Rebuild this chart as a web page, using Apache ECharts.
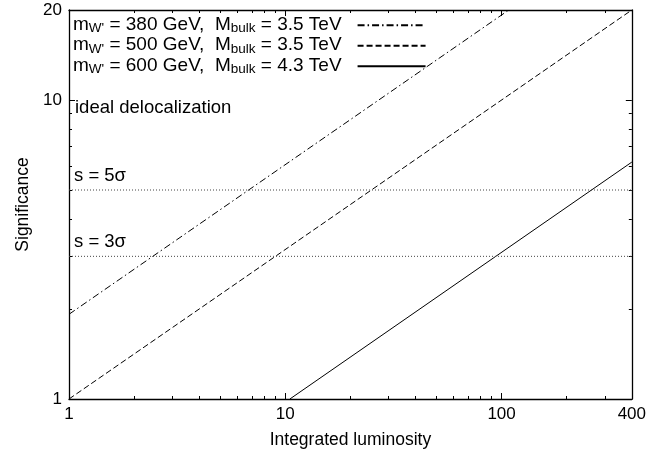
<!DOCTYPE html>
<html>
<head>
<meta charset="utf-8">
<script src="https://cdn.jsdelivr.net/npm/echarts@6/dist/echarts.min.js"></script>
<style>
  html, body { margin: 0; padding: 0; background: #fff; }
  #main { width: 649px; height: 457px; }
</style>
</head>
<body>
<div id="main"></div>
<script>
// 数据 (log-log axes)
var wMass = [380, 500, 600];
var bulkMass = ['3.5', '3.5', '4.3'];
var dashTypes = [[7, 3, 1.5, 3], [6, 3], 'solid'];
var line380 = [[1, 1.92], [108, 20]];
var line500 = [[1, 1], [400, 20]];
var line600 = [[10.5, 1], [400, 6.2]];
var sigma5 = [[1, 5], [400, 5]];
var sigma3 = [[1, 3], [400, 3]];
var xMajor = [1, 10, 100, 400];
var xMinor = [2, 3, 4, 5, 6, 7, 8, 9, 20, 30, 40, 50, 60, 70, 80, 90, 200, 300];
var yMajor = [1, 10, 20];
var yMinor = [2, 3, 4, 5, 6, 7, 8, 9];

var font = 'Liberation Sans, Arial, Helvetica, sans-serif';
var names = [];
var richNames = {};
for (var i = 0; i < wMass.length; i++) {
  var nm = "mW' = " + wMass[i] + ' GeV,  Mbulk = ' + bulkMass[i] + ' TeV';
  names.push(nm);
  richNames[nm] = "{n|m}{s|W'}{n| = " + wMass[i] + ' GeV,  M}{s|bulk}{n| = ' + bulkMass[i] + ' TeV}{p| }';
}

function logAxis(pos, min, max, ticks, len, labels, extra) {
  var a = {
    type: 'log', position: pos, min: min, max: max, logBase: 10,
    axisLine: { show: !!labels, lineStyle: { color: '#000', width: 1.3 } },
    axisTick: { show: true, inside: true, length: len, customValues: ticks, lineStyle: { color: '#000', width: 1 } },
    axisLabel: labels ? { show: true, customValues: labels, color: '#000', fontSize: 17, fontFamily: font, margin: 7 } : { show: false },
    splitLine: { show: false }, minorTick: { show: false }
  };
  for (var k in extra) a[k] = extra[k];
  return a;
}

var myChart = echarts.init(document.getElementById('main'));
myChart.setOption({
  backgroundColor: '#fff',
  animation: false,
  grid: { left: 69, right: 17, top: 10, bottom: 58 },
  xAxis: [
    logAxis('bottom', 1, 400, xMajor, 6, xMajor, {
      name: 'Integrated luminosity', nameLocation: 'middle', nameGap: 32,
      nameTextStyle: { color: '#000', fontSize: 17.5, fontFamily: font }
    }),
    logAxis('bottom', 1, 400, xMinor, 3, null, {}),
    logAxis('top', 1, 400, xMajor, 6, null, { axisLine: { show: true, lineStyle: { color: '#000', width: 1.3 } } }),
    logAxis('top', 1, 400, xMinor, 3, null, {})
  ],
  yAxis: [
    logAxis('left', 1, 20, yMajor, 6, yMajor, {
      name: 'Significance', nameLocation: 'middle', nameGap: 36,
      nameTextStyle: { color: '#000', fontSize: 17.5, fontFamily: font }
    }),
    logAxis('left', 1, 20, yMinor, 3, null, {}),
    logAxis('right', 1, 20, yMajor, 6, null, { axisLine: { show: true, lineStyle: { color: '#000', width: 1.3 } } }),
    logAxis('right', 1, 20, yMinor, 3, null, {})
  ],
  legend: {
    data: names,
    orient: 'vertical',
    left: 73, top: 15,
    align: 'right',
    itemWidth: 68, itemHeight: 14,
    itemGap: 0,
    padding: 0,
    itemStyle: { opacity: 0 },
    formatter: function (name) { return richNames[name]; },
    textStyle: {
      color: '#000', fontFamily: font,
      rich: {
        n: { fontSize: 19, fontFamily: font, color: '#000', lineHeight: 19, verticalAlign: 'top' },
        s: { fontSize: 13.5, fontFamily: font, color: '#000', lineHeight: 13, verticalAlign: 'bottom' },
        p: { fontSize: 12, lineHeight: 20.5, width: 11 }
      }
    }
  },
  graphic: [
    { type: 'text', left: 75, top: 98, style: { text: 'ideal delocalization', fontSize: 18.5, fontFamily: font, fill: '#000' } },
    { type: 'text', left: 74, top: 166, style: { text: 's = 5σ', fontSize: 18.5, fontFamily: font, fill: '#000' } },
    { type: 'text', left: 74, top: 232, style: { text: 's = 3σ', fontSize: 18.5, fontFamily: font, fill: '#000' } }
  ],
  series: [
    { name: names[0], type: 'line', data: line380, symbol: 'none', lineStyle: { color: '#000', width: 1, type: dashTypes[0] }, itemStyle: { color: '#000' } },
    { name: names[1], type: 'line', data: line500, symbol: 'none', lineStyle: { color: '#000', width: 1, type: dashTypes[1] }, itemStyle: { color: '#000' } },
    { name: names[2], type: 'line', data: line600, symbol: 'none', lineStyle: { color: '#000', width: 1, type: dashTypes[2] }, itemStyle: { color: '#000' } },
    { name: '5sigma', type: 'line', data: sigma5, symbol: 'none', silent: true, lineStyle: { color: '#444', width: 1, type: [1, 2] } },
    { name: '3sigma', type: 'line', data: sigma3, symbol: 'none', silent: true, lineStyle: { color: '#444', width: 1, type: [1, 2] } }
  ]
});
</script>
</body>
</html>
